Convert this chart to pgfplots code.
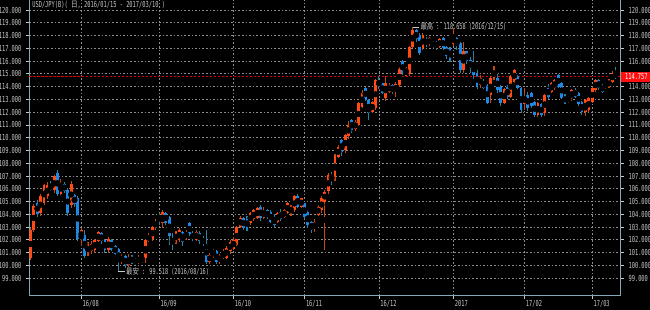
\documentclass[border=0pt]{standalone}
\usepackage{fontspec}
\usepackage{pgfplots}
\usepackage{pgfplotstable}
\pgfplotsset{compat=1.18}
\newfontfamily\lab[FakeStretch=0.65]{DejaVu Sans Mono}
\newfontfamily\cjk[FakeStretch=0.8]{Noto Sans CJK JP}
\definecolor{upb}{RGB}{255,74,20}
\definecolor{upw}{RGB}{200,72,20}
\definecolor{dnb}{RGB}{30,136,229}
\definecolor{dnw}{RGB}{40,130,160}
\definecolor{gridc}{RGB}{140,140,140}
\definecolor{framec}{RGB}{128,168,184}
\definecolor{txt}{RGB}{200,200,200}
\definecolor{nowc}{RGB}{210,0,0}
\definecolor{tagc}{RGB}{255,16,16}

\pgfplotstableread{
i o h l c
0 100.56 102.90 100.45 102.80
1 102.80 104.80 102.60 104.65
3 104.10 105.60 103.90 105.40
4 104.90 106.40 104.70 106.30
5 105.40 106.50 105.20 106.30
7 105.90 107.10 105.70 107.00
9 105.60 106.80 105.50 106.40
12 104.70 106.60 104.50 106.40
15 102.10 102.90 101.60 102.80
17 100.95 101.80 100.70 101.60
18 101.10 101.90 100.90 101.70
19 101.20 102.10 101.00 102.00
20 101.90 102.70 101.80 102.60
23 101.20 102.20 101.00 102.10
27 100.30 100.90 100.10 100.70
29 100.00 100.90 99.90 100.60
32 100.20 100.80 100.10 100.60
33 100.40 100.70 100.20 100.60
34 100.60 102.10 100.20 102.00
35 101.90 102.50 101.80 102.40
36 102.10 103.10 101.90 103.00
37 103.00 103.60 102.80 103.40
39 103.30 104.30 102.90 104.20
43 101.90 102.70 101.70 102.60
44 102.00 102.90 101.80 102.80
46 102.20 102.80 102.00 102.60
49 102.00 102.80 101.90 102.60
53 100.30 101.00 100.10 100.80
54 100.80 101.30 100.60 101.20
56 100.30 100.90 100.10 100.80
57 100.60 101.30 100.50 101.00
58 100.60 101.50 100.50 101.40
59 101.10 102.00 100.90 101.80
60 101.30 102.20 101.20 102.00
61 101.60 103.10 101.50 103.00
62 103.00 103.90 102.90 103.70
65 103.30 104.20 103.20 104.10
66 103.60 104.40 103.50 104.30
67 103.70 104.60 103.60 104.50
69 103.70 104.60 103.60 104.30
73 103.40 104.20 103.30 104.10
75 103.80 104.40 103.70 104.30
76 104.10 105.00 104.00 104.85
77 104.10 104.70 103.90 104.60
78 104.30 105.50 104.20 105.40
80 104.60 105.30 104.50 105.25
84 102.90 103.60 102.60 103.40
85 103.95 104.70 103.90 104.60
86 104.30 105.40 104.10 105.25
87 105.00 105.90 101.20 105.77
88 105.80 107.20 105.60 107.10
90 106.90 108.70 106.60 108.60
91 108.50 109.40 108.40 109.30
93 109.00 110.30 108.80 110.20
94 110.10 111.30 109.90 111.00
96 110.70 111.40 110.50 111.25
97 111.00 112.80 110.90 112.70
98 112.40 113.70 112.30 113.50
101 112.05 112.90 111.90 112.80
102 112.30 114.60 112.20 114.50
105 113.10 114.80 112.90 114.30
106 113.60 114.30 113.50 114.10
108 113.60 114.40 113.20 114.20
109 114.10 115.50 114.00 115.40
111 115.00 115.50 114.80 115.40
112 115.00 117.20 114.80 117.10
113 117.10 118.658 117.00 118.40
116 117.00 118.20 116.90 118.05
118 117.30 117.90 117.20 117.80
121 117.10 117.80 117.00 117.70
125 117.30 118.60 117.20 118.00
128 115.30 117.50 115.10 116.75
133 114.15 114.90 113.90 114.65
136 113.35 114.80 112.70 114.65
137 114.65 115.60 114.50 115.30
140 112.70 113.90 112.60 113.80
142 113.20 114.90 113.10 114.80
143 114.40 115.40 114.30 115.30
146 112.60 113.90 112.20 113.30
150 111.80 112.80 111.60 112.70
152 111.90 113.40 111.70 113.35
154 113.60 114.40 113.50 114.25
155 113.90 114.60 113.70 114.50
159 112.80 113.30 112.70 113.20
160 113.10 113.80 112.90 113.75
164 112.05 113.00 111.70 112.95
165 112.20 113.20 112.00 113.10
166 112.80 114.00 112.70 113.90
167 113.75 114.60 113.60 114.50
170 113.90 114.40 113.80 114.30
171 114.00 114.60 113.90 114.50
172 114.40 115.20 114.30 115.05
}\up

\pgfplotstableread{
i o h l c
2 104.90 105.10 103.80 104.00
6 106.40 106.60 105.80 105.90
8 107.20 107.50 105.40 105.60
10 106.40 106.50 105.70 105.80
11 105.90 106.10 103.90 104.10
13 105.50 105.60 104.60 104.80
14 105.30 105.40 101.90 102.10
16 102.40 102.80 100.60 100.70
21 102.50 102.60 101.70 101.90
22 102.00 102.10 101.00 101.20
24 102.00 102.10 101.10 101.20
25 101.50 101.60 100.80 100.90
26 101.30 101.40 99.518 100.30
28 100.70 100.80 99.80 100.00
30 100.70 100.80 100.10 100.20
31 100.40 100.60 100.00 100.20
38 103.90 104.10 103.20 103.60
40 104.10 104.20 103.20 103.30
41 103.80 103.90 101.60 102.30
42 102.10 102.50 101.20 101.70
45 102.60 102.70 101.50 101.80
47 103.30 103.40 102.30 102.40
48 102.50 102.70 101.90 102.10
50 102.50 102.70 101.70 101.90
51 102.10 102.30 101.50 101.70
52 101.70 102.80 100.10 100.30
55 101.10 101.20 100.10 100.30
63 103.70 103.80 102.80 102.90
64 103.60 103.90 102.70 102.90
68 104.60 104.70 103.50 103.70
70 104.30 104.40 103.60 103.80
71 104.20 104.30 103.30 103.40
72 103.90 104.00 102.90 103.20
74 104.20 104.40 103.50 103.60
79 105.40 105.60 104.50 104.60
81 104.85 104.90 103.60 103.80
82 104.20 104.30 102.90 103.20
83 103.40 103.50 102.50 102.80
89 107.10 107.30 106.30 106.70
92 109.80 109.90 108.60 108.90
95 111.40 111.50 110.40 110.60
99 113.90 114.00 112.90 112.95
100 112.95 113.00 111.40 111.90
103 114.50 114.80 113.80 114.00
104 114.25 114.30 113.40 113.50
107 114.10 114.20 113.40 113.60
110 116.00 116.10 114.90 115.05
114 118.40 118.50 117.50 117.70
115 118.05 118.20 116.50 116.60
117 117.70 117.90 117.10 117.30
119 117.50 117.60 117.00 117.10
120 117.50 117.60 116.90 117.00
122 117.80 117.90 116.90 117.00
123 117.10 117.20 116.20 116.40
124 117.00 117.10 115.90 116.20
126 117.80 117.90 116.90 117.20
127 117.40 117.50 115.10 115.30
129 116.75 116.80 115.80 116.00
130 116.10 116.30 115.10 115.45
131 115.80 116.80 114.60 114.90
132 115.10 115.30 113.80 114.00
134 114.40 114.60 113.80 113.90
135 114.10 114.20 112.60 112.70
138 114.65 115.00 113.50 113.75
139 114.00 114.10 112.50 112.70
141 114.00 114.10 113.00 113.20
144 114.80 114.90 113.80 113.90
145 113.90 114.00 111.90 112.20
147 113.35 113.60 112.10 112.30
148 113.50 113.60 112.30 112.45
149 112.80 112.90 111.60 111.80
151 112.60 112.70 111.60 111.80
153 113.90 114.20 113.00 113.20
156 114.90 115.00 113.90 114.00
157 114.30 114.40 113.00 113.10
158 113.20 113.40 112.60 112.80
161 113.75 113.90 113.10 113.20
162 113.50 113.60 112.50 112.60
163 112.80 112.90 111.80 112.00
168 114.50 114.60 113.70 113.90
169 114.10 114.20 113.50 113.60
173 115.10 115.50 114.60 114.757
}\down

\pgfplotsset{
  wick/.style={only marks, mark=none, forget plot,
    error bars/.cd, y dir=both, y explicit, error mark=none,
    error bar style={solid, line width=0.8pt, draw=#1}},
  body/.style={only marks, mark=none, forget plot,
    error bars/.cd, y dir=both, y explicit, error mark=none,
    error bar style={solid, line width=2.15pt, draw=#1}},
  common/.style={
    at={(0,0)}, anchor=south west,
    scale only axis, width=443.25pt, height=222pt,
    xmin=-0.3, xmax=174.4, ymin=97.604, ymax=120.783,
    axis line style={draw=framec, line width=0.75pt},
    tick align=outside,
    major tick length=2.5pt,
    tick style={draw=txt, line width=0.6pt},
    ticklabel style={font=\lab\fontsize{6.2}{7}\selectfont, text=txt},
    yticklabel={\pgfmathprintnumber[fixed,fixed zerofill,precision=3,assume math mode=true]{\tick}},
  }
}

\begin{document}
\begin{tikzpicture}
\path[use as bounding box, fill=black] (-22.125pt,-10.5pt) rectangle (465.375pt,222pt);
\begin{axis}[common,
  axis x line*=bottom, axis y line*=box,
  ytick={99,...,120},
  ytick pos=both, yticklabel pos=left,
  xtick={15,38,60,81,103,125,146,166},
  xticklabels={16/08,16/09,16/10,16/11,16/12,2017,17/02,17/03},
  xticklabel style={anchor=north west, inner sep=0.6pt, xshift=0.3pt, yshift=-0.3pt},
  xmajorgrids, ymajorgrids,
  major grid style={draw=gridc, line width=0.6pt, dash pattern=on 1.2pt off 1.5pt},
]
\addplot[draw=nowc, line width=0.75pt, dash pattern=on 2pt off 1pt, forget plot] coordinates {(-0.3,114.757) (174.4,114.757)};
\addplot[wick=upw] table[x=i, y expr={0.5*(\thisrow{h}+\thisrow{l})}, y error expr={0.5*(\thisrow{h}-\thisrow{l})}] {\up};
\addplot[wick=dnw] table[x=i, y expr={0.5*(\thisrow{h}+\thisrow{l})}, y error expr={0.5*(\thisrow{h}-\thisrow{l})}] {\down};
\addplot[body=upb] table[x=i, y expr={0.5*(\thisrow{o}+\thisrow{c})}, y error expr={0.5*abs(\thisrow{c}-\thisrow{o})}] {\up};
\addplot[body=dnb] table[x=i, y expr={0.5*(\thisrow{o}+\thisrow{c})}, y error expr={0.5*abs(\thisrow{c}-\thisrow{o})}] {\down};
\coordinate (hi) at (axis cs:113,118.658);
\coordinate (lo) at (axis cs:26,99.518);
\coordinate (now) at (axis cs:174.4,114.757);
\end{axis}
\begin{axis}[common,
  axis x line=none, axis y line*=right,
  ytick={99,...,114,116,117,118,119,120},
  ytick pos=right, yticklabel pos=right,
]
\addplot[draw=none, forget plot] coordinates {(0,100)};
\end{axis}
\node[anchor=west, inner sep=0pt, text=txt, font=\lab\fontsize{6.2}{7}\selectfont] at (1.9pt,218.2pt) {USD/JPY(B)( {\cjk 日}, 2016/01/15 - 2017/03/10 )};
\draw[txt, line width=0.6pt] (hi) -- ++(5pt,0) node[right, inner sep=0.5pt, font=\lab\fontsize{6}{7}\selectfont]{{\cjk 最高} : 118.658 (2016/12/15)};
\draw[txt, line width=0.6pt] (lo) -- ++(5pt,0) node[right, inner sep=0.5pt, font=\lab\fontsize{6}{7}\selectfont]{{\cjk 最安} : 99.518 (2016/08/16)};
\node[anchor=west, fill=tagc, text=white, inner sep=0pt, minimum width=22.6pt, minimum height=8pt, font=\lab\fontsize{6.2}{7}\selectfont] at ([xshift=0.4pt]now) {114.757};
\end{tikzpicture}
\end{document}
